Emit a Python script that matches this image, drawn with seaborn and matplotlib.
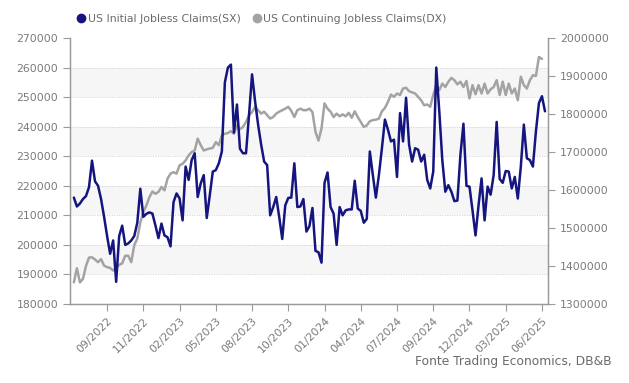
import matplotlib
matplotlib.use("Agg")
import matplotlib.pyplot as plt
import matplotlib.dates as mdates
import matplotlib.ticker as mticker
from matplotlib.lines import Line2D
import seaborn as sns
import numpy as np
import pandas as pd


# weekly data
initial_claims = [
    216000, 213000, 214000, 215500, 216500, 219500, 228500, 221500, 220000, 215500,
    209500, 203000, 197000, 201500, 187500, 203000, 206500, 200000, 200500, 201500,
    203000, 207500, 219000, 209500, 210500, 211000, 210600, 206600, 202300, 207200,
    203200, 202600, 199500, 214500, 217400, 215700, 208300, 226500, 222000, 228700,
    231000, 216200, 220800, 223600, 209100, 216800, 224800, 225300, 227600, 231600,
    255000, 260000, 261000, 238000, 247500, 232500, 231000, 231000, 244000, 257700,
    248600, 240700, 234000, 228200, 227000, 210000, 212800, 216200, 209400, 202000,
    213400, 215900, 216000, 227600, 212800, 213000, 215500, 204500, 206300, 212500,
    198000, 197500, 194000, 221000, 224500, 212800, 210600, 200000, 212800, 210000,
    211700, 212000, 212000, 221700, 212300, 211500, 207500, 208800, 231600, 223600,
    216000, 223600, 232700, 242400, 239000, 235000, 235600, 223000, 244600, 235000,
    249800, 233900, 228200, 232700, 232200, 228200, 230500, 222000, 219100, 224800,
    260000, 245200, 228700, 218000, 220200, 218000, 214800, 215000, 230500, 241000,
    220000, 219700, 211700, 203200, 213400, 222500, 208300, 219700, 217000, 223600,
    241600, 222300, 221000, 225000, 224800, 219100, 223000, 215700, 226500, 240700,
    229300, 228700, 226500, 238400, 248000, 250300, 245200,
]

continuing_claims = [
    1357000, 1394000, 1357000, 1366000, 1400000, 1422000, 1423000, 1417000, 1410000, 1418000,
    1401000, 1397000, 1395000, 1388000, 1395000, 1403000, 1407000, 1427000, 1427000, 1410000,
    1455000, 1472000, 1515000, 1542000, 1559000, 1581000, 1596000, 1590000, 1595000, 1608000,
    1599000, 1630000, 1643000, 1647000, 1643000, 1665000, 1669000, 1678000, 1691000, 1700000,
    1704000, 1735000, 1718000, 1704000, 1707000, 1709000, 1711000, 1726000, 1718000, 1744000,
    1748000, 1750000, 1755000, 1748000, 1770000, 1760000, 1766000, 1779000, 1797000, 1805000,
    1819000, 1810000, 1801000, 1806000, 1797000, 1788000, 1792000, 1801000, 1806000, 1810000,
    1814000, 1819000, 1808000, 1792000, 1810000, 1814000, 1810000, 1810000, 1814000, 1805000,
    1753000, 1730000, 1762000, 1828000, 1814000, 1806000, 1792000, 1801000, 1794000, 1799000,
    1794000, 1803000, 1790000, 1807000, 1792000, 1779000, 1766000, 1770000, 1781000, 1784000,
    1785000, 1788000, 1807000, 1816000, 1832000, 1851000, 1845000, 1854000, 1850000, 1867000,
    1869000, 1860000, 1857000, 1854000, 1845000, 1836000, 1823000, 1825000, 1819000, 1850000,
    1876000, 1863000, 1880000, 1871000, 1885000, 1895000, 1889000, 1878000, 1885000, 1871000,
    1887000, 1841000, 1876000, 1852000, 1876000, 1854000, 1880000, 1854000, 1865000, 1871000,
    1889000, 1850000, 1885000, 1850000, 1880000, 1854000, 1867000, 1836000, 1898000, 1876000,
    1867000, 1889000, 1902000, 1900000, 1950000, 1945000,
]

dates = pd.date_range("2022-06-18", periods=len(initial_claims), freq="W-SAT")
tick_dates = dates[11::12]

left_ticks = list(range(180000, 270001, 10000))
right_ticks = list(range(1300000, 2000001, 100000))

df_init = pd.DataFrame({"date": dates, "value": initial_claims})
df_cont = pd.DataFrame({"date": dates[:len(continuing_claims)], "value": continuing_claims})

navy = "#15157f"
grey_line = "#a3a3a3"
txt = "#7a7a7a"

sns.set_style("white")
plt.rcParams["font.family"] = ["DejaVu Sans"]

fig = plt.figure(figsize=(6.29, 3.83), dpi=100)
ax = fig.add_axes([70 / 629, 1 - 304 / 383, 478 / 629, 266 / 383])
ax2 = ax.twinx()

# light alternate bands + dotted grid (drawn in axes fraction on the lower axes)
n_bands = len(left_ticks) - 1
for i in range(n_bands):
    if i % 2 == 1:
        ax2.axhspan(1300000 + i * 700000 / n_bands, 1300000 + (i + 1) * 700000 / n_bands,
                    color="#f6f6f6", zorder=0, lw=0)
for i in range(1, n_bands):
    ax2.axhline(1300000 + i * 700000 / n_bands, color="#d0d0d0", lw=0.7,
                ls=(0, (1, 1.5)), zorder=0.5)

sns.lineplot(data=df_cont, x="date", y="value", ax=ax2, color=grey_line, lw=1.8, zorder=2)
sns.lineplot(data=df_init, x="date", y="value", ax=ax, color=navy, lw=1.8, zorder=3)
ax2.set_zorder(0)
ax.set_zorder(1)
ax.patch.set_visible(False)
ax2.patch.set_visible(True)
ax2.patch.set_facecolor("white")

ax.set_ylim(180000, 270000)
ax2.set_ylim(1300000, 2000000)
ax.set_yticks(left_ticks)
ax2.set_yticks(right_ticks)
ax2.yaxis.set_major_formatter(mticker.StrMethodFormatter("{x:.0f}"))
ax.yaxis.set_major_formatter(mticker.StrMethodFormatter("{x:.0f}"))
ax.set_xlim(dates[0] - pd.Timedelta(days=9), dates[0] + pd.Timedelta(weeks=157))
ax.set_xticks(tick_dates)
ax.xaxis.set_major_formatter(mdates.DateFormatter("%m/%Y"))

for a in (ax, ax2):
    a.set_xlabel("")
    a.set_ylabel("")
    a.spines["top"].set_visible(False)
    for s in ("left", "right", "bottom"):
        a.spines[s].set_color("#9a9a9a")
        a.spines[s].set_linewidth(0.9)
    a.tick_params(axis="y", colors="#9a9a9a", labelcolor=txt, labelsize=7.8,
                  length=5, width=0.8, direction="out")
ax.tick_params(axis="x", colors="#9a9a9a", labelcolor=txt, labelsize=7.8,
               length=5, width=0.8, direction="out", bottom=True)
ax2.tick_params(axis="y", right=True)
ax.tick_params(axis="y", left=True)
plt.setp(ax.get_xticklabels(), rotation=45, ha="right", rotation_mode="anchor")

handles = [
    Line2D([], [], ls="", marker="o", ms=6, color=navy),
    Line2D([], [], ls="", marker="o", ms=6, color=grey_line),
]
fig.legend(handles, ["US Initial Jobless Claims(SX)", "US Continuing Jobless Claims(DX)"],
           loc="upper left", bbox_to_anchor=(66 / 629, 1 - 4 / 383), ncol=2, frameon=False,
           fontsize=7.8, labelcolor="#6a6a6a", handletextpad=0.1, columnspacing=1.0,
           handlelength=1.0)

fig.text(612 / 629, 1 - 361 / 383, "Fonte Trading Economics, DB&B", ha="right", va="center",
         fontsize=8.8, color="#6a6a6a")

fig.savefig("out.png", dpi=100)
